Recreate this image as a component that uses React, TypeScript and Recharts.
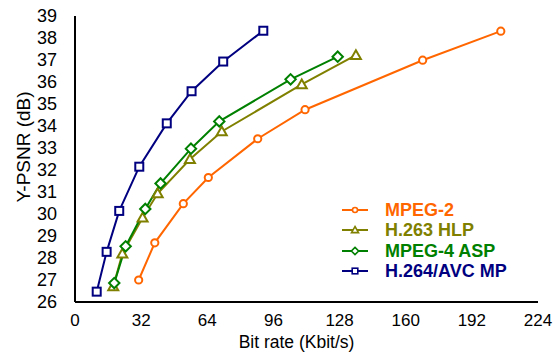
import { LineChart, Line, XAxis, YAxis } from "recharts";

const mpeg2Rate = [30.8, 38.6, 52.4, 64.5, 88.4, 111.3, 168.2, 206];
const mpeg2Psnr = [27.0, 28.69, 30.47, 31.66, 33.42, 34.74, 36.99, 38.31];

const h263Rate = [18.5, 22.9, 32.7, 40.0, 55.6, 71.0, 109.7, 135.9];
const h263Psnr = [26.7, 28.19, 29.83, 30.93, 32.49, 33.75, 35.89, 37.22];

const mpeg4Rate = [19.0, 24.5, 34.0, 41.4, 56.1, 69.8, 104.3, 127.1];
const mpeg4Psnr = [26.86, 28.53, 30.23, 31.39, 32.97, 34.21, 36.12, 37.15];

const h264Rate = [10.5, 15.3, 21.4, 31.1, 44.4, 56.4, 71.7, 91.1];
const h264Psnr = [26.47, 28.28, 30.14, 32.15, 34.12, 35.58, 36.93, 38.33];

const xTicks = [0, 32, 64, 96, 128, 160, 192, 224];
const yTicks = [26, 27, 28, 29, 30, 31, 32, 33, 34, 35, 36, 37, 38, 39];

type Marker = "circle" | "triangle" | "diamond" | "square";

const SERIES: { name: string; color: string; marker: Marker; rate: number[]; psnr: number[] }[] = [
  { name: "MPEG-2", color: "#FF6600", marker: "circle", rate: mpeg2Rate, psnr: mpeg2Psnr },
  { name: "H.263 HLP", color: "#808000", marker: "triangle", rate: h263Rate, psnr: h263Psnr },
  { name: "MPEG-4 ASP", color: "#008000", marker: "diamond", rate: mpeg4Rate, psnr: mpeg4Psnr },
  { name: "H.264/AVC MP", color: "#000080", marker: "square", rate: h264Rate, psnr: h264Psnr },
];

const FONT = "'Liberation Sans', Arial, sans-serif";

function toPoints(rate: number[], psnr: number[]) {
  return rate.map((r, i) => ({ rate: r, psnr: psnr[i] }));
}

function MarkerShape({ cx, cy, marker, color, s = 1, sw = 2 }: any) {
  if (cx == null || cy == null) return null;
  if (marker === "circle") {
    return <circle cx={cx} cy={cy} r={3.6 * s} fill="#fff" stroke={color} strokeWidth={sw} />;
  }
  if (marker === "triangle") {
    const r = 5 * s;
    return (
      <polygon
        points={`${cx},${cy - r} ${cx + r},${cy + r * 0.75} ${cx - r},${cy + r * 0.75}`}
        fill="#fff"
        stroke={color}
        strokeWidth={sw}
      />
    );
  }
  if (marker === "diamond") {
    const r = 5.2 * s;
    return (
      <polygon
        points={`${cx},${cy - r} ${cx + r},${cy} ${cx},${cy + r} ${cx - r},${cy}`}
        fill="#fff"
        stroke={color}
        strokeWidth={sw}
      />
    );
  }
  const h = 4 * s;
  return <rect x={cx - h} y={cy - h} width={h * 2} height={h * 2} fill="#fff" stroke={color} strokeWidth={sw} />;
}

function LegendBox() {
  return (
    <div
      style={{
        position: "absolute",
        left: 341,
        top: 200,
        fontFamily: FONT,
        fontWeight: "bold",
        fontSize: 18,
        lineHeight: "20.3px",
      }}
    >
      {SERIES.map((s) => (
        <div key={s.name} style={{ display: "flex", alignItems: "center", height: 20.3 }}>
          <svg width={28} height={14} style={{ marginRight: 16 }}>
            <line x1={1} y1={7} x2={27} y2={7} stroke={s.color} strokeWidth={2} />
            <MarkerShape cx={14} cy={7} marker={s.marker} color={s.color} s={0.7} sw={1.6} />
          </svg>
          <span style={{ color: s.color, whiteSpace: "nowrap" }}>{s.name}</span>
        </div>
      ))}
    </div>
  );
}

const frame = { stroke: "#000", strokeWidth: 2 };

export default function App() {
  return (
    <div style={{ position: "absolute", left: 0, top: 0, width: 555, height: 352 }}>
      <LineChart
        width={555}
        height={352}
        margin={{ top: 16, right: 17, bottom: 0, left: 0 }}
        style={{ fontFamily: FONT }}
      >
        <XAxis
          type="number"
          dataKey="rate"
          domain={[0, 224]}
          ticks={xTicks}
          allowDataOverflow
          height={50}
          tickLine={false}
          axisLine={frame}
          tickMargin={6}
          tick={{ fill: "#000", fontSize: 17 }}
          label={{ value: "Bit rate (Kbit/s)", position: "insideBottom", offset: 4, dx: -10, fill: "#000", fontSize: 17.5 }}
        />
        <XAxis
          xAxisId="top"
          orientation="top"
          type="number"
          domain={[0, 224]}
          height={0}
          tick={false}
          tickLine={false}
          axisLine={frame}
        />
        <YAxis
          type="number"
          dataKey="psnr"
          domain={[26, 39]}
          ticks={yTicks}
          interval={0}
          allowDataOverflow
          width={75}
          tickLine={false}
          axisLine={frame}
          tickMargin={12}
          tick={{ fill: "#000", fontSize: 18 }}
          label={{ value: "Y-PSNR (dB)", angle: -90, position: "insideLeft", offset: 23, dy: -12, fill: "#000", fontSize: 19, style: { textAnchor: "middle" } }}
        />
        <YAxis
          yAxisId="right"
          orientation="right"
          type="number"
          domain={[26, 39]}
          width={0}
          tick={false}
          tickLine={false}
          axisLine={frame}
        />
        {SERIES.map((s) => (
          <Line
            key={s.name}
            data={toPoints(s.rate, s.psnr)}
            dataKey="psnr"
            name={s.name}
            stroke={s.color}
            strokeWidth={2}
            isAnimationActive={false}
            dot={(p: any) => <MarkerShape key={p.index} cx={p.cx} cy={p.cy} marker={s.marker} color={s.color} />}
          />
        ))}
      </LineChart>
      <LegendBox />
    </div>
  );
}
